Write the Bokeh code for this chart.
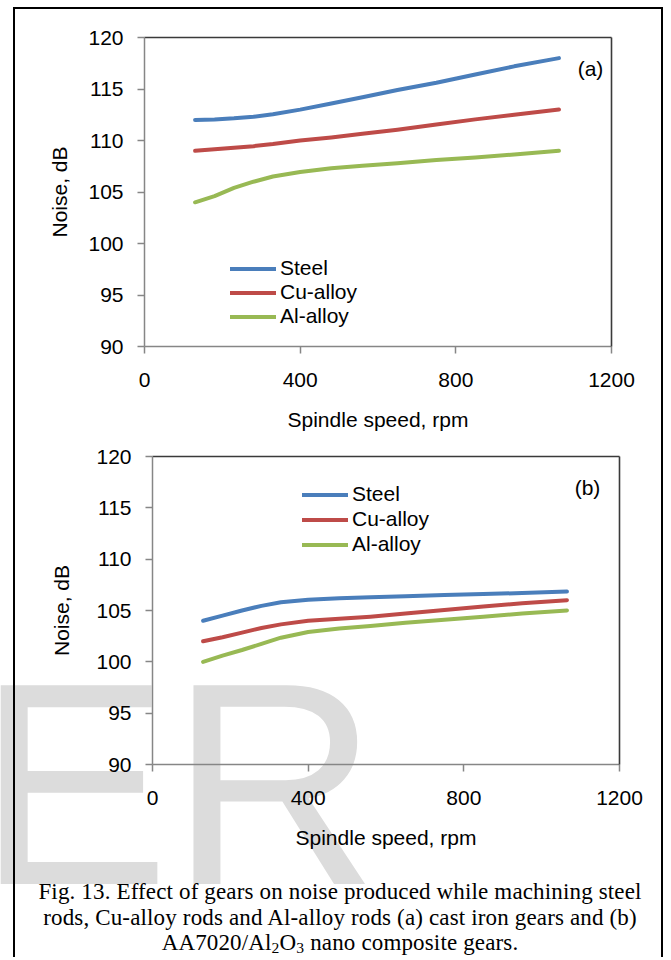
from bokeh.plotting import figure
from bokeh.models import Legend, LegendItem, Label, LinearAxis, FixedTicker, Range1d, Div
from bokeh.layouts import column
from bokeh.embed import file_html
from bokeh.resources import INLINE

# ---------------- data ----------------
series_names = ["Steel", "Cu-alloy", "Al-alloy"]
series_colors = ["#4a7ebb", "#be4b48", "#98b954"]

speed_rpm = [130, 180, 230, 280, 330, 400, 480, 560, 650, 750, 850, 950, 1065]

# (a) cast iron gears
steel_a = [112.0, 112.05, 112.15, 112.3, 112.55, 113.0, 113.6, 114.2, 114.9, 115.6, 116.4, 117.2, 118.0]
cu_a = [109.0, 109.15, 109.3, 109.45, 109.65, 110.0, 110.3, 110.65, 111.05, 111.55, 112.05, 112.5, 113.0]
al_a = [104.0, 104.6, 105.4, 106.0, 106.5, 106.95, 107.3, 107.55, 107.8, 108.1, 108.35, 108.65, 109.0]

# (b) AA7020/Al2O3 nano composite gears
steel_b = [104.0, 104.5, 105.0, 105.45, 105.8, 106.05, 106.2, 106.3, 106.4, 106.5, 106.6, 106.7, 106.85]
cu_b = [102.0, 102.4, 102.85, 103.3, 103.65, 104.0, 104.2, 104.4, 104.7, 105.05, 105.4, 105.7, 106.0]
al_b = [100.0, 100.6, 101.15, 101.75, 102.35, 102.9, 103.25, 103.5, 103.8, 104.1, 104.4, 104.7, 105.0]

x_ticks = [0, 400, 800, 1200]
y_ticks = [90, 95, 100, 105, 110, 115, 120]

x_title = "Spindle speed, rpm"
y_title = "Noise, dB"
panel_tags = ["(a)", "(b)"]
caption_lines = [
    "Fig. 13. Effect of gears on noise produced while machining steel",
    "rods, Cu-alloy rods and Al-alloy rods (a) cast iron gears and (b)",
    "AA7020/Al<span class='s'>2</span>O<span class='s'>3</span> nano composite gears.",
]
watermark_text = "ER"

SANS = "Liberation Sans"
SERIF = "Liberation Serif"
FS = "21px"
W = 671


def make_fig(height, bl, br, bt, bb, series, legend_xy, legend_spacing, tag, tag_xy, title_stand):
    p = figure(width=W, height=height, x_range=Range1d(0, 1200), y_range=Range1d(90, 120),
               output_backend="svg", toolbar_location=None,
               min_border_left=bl, min_border_right=br, min_border_top=bt, min_border_bottom=bb,
               styles={"position": "relative", "z-index": "1"})
    p.frame_align = False
    p.outline_line_color = None
    p.grid.visible = False
    p.background_fill_color = None
    p.border_fill_color = None

    for ax in (p.xaxis[0], p.yaxis[0]):
        ax.axis_line_color = "#868686"
        ax.axis_line_width = 1.5
        ax.major_tick_line_color = "#868686"
        ax.major_tick_line_width = 1.5
        ax.major_tick_in = 0
        ax.major_tick_out = 7
        ax.minor_tick_line_color = None
        ax.major_label_text_font = SANS
        ax.major_label_text_font_size = FS
        ax.major_label_text_color = "black"
        ax.axis_label_text_font = SANS
        ax.axis_label_text_font_size = FS
        ax.axis_label_text_font_style = "normal"
        ax.axis_label_text_color = "black"
    p.xaxis[0].ticker = FixedTicker(ticks=x_ticks)
    p.yaxis[0].ticker = FixedTicker(ticks=y_ticks)
    p.xaxis[0].axis_label = x_title
    p.yaxis[0].axis_label = y_title
    p.xaxis[0].major_label_standoff = 19
    p.yaxis[0].major_label_standoff = 14
    p.xaxis[0].axis_label_standoff = 18
    p.yaxis[0].axis_label_standoff = title_stand

    for loc in ("above", "right"):
        ax = LinearAxis(ticker=FixedTicker(ticks=[]), axis_line_color="#3a3a3a", axis_line_width=1.6,
                        major_tick_line_color=None, minor_tick_line_color=None,
                        major_label_text_font_size="1px")
        p.add_layout(ax, loc)

    items = []
    for name, col, ys in zip(series_names, series_colors, series):
        r = p.line(speed_rpm, ys, line_color=col, line_width=4, line_join="round", line_cap="round")
        items.append(LegendItem(label=name, renderers=[r]))

    leg = Legend(items=items, location=legend_xy, orientation="vertical",
                 glyph_width=46, glyph_height=23, label_height=23, label_standoff=4,
                 spacing=legend_spacing, padding=0, margin=0,
                 border_line_color=None, background_fill_color=None,
                 label_text_font=SANS, label_text_font_size=FS, label_text_color="black")
    p.add_layout(leg, "center")

    p.add_layout(Label(x=tag_xy[0], y=tag_xy[1], x_units="screen", y_units="screen", text=tag,
                       text_font=SANS, text_font_size=FS, text_color="black",
                       text_align="center", text_baseline="middle"))
    return p


fa = make_fig(433, 144, 60, 37, 85, [steel_a, cu_a, al_a], (86, 18), 0, panel_tags[0], (446, 278), 14)
fb = make_fig(432, 152, 52, 23, 101, [steel_b, cu_b, al_b], (150, 208), 1, panel_tags[1], (435, 277), 20)

caption_html = "<br>".join(caption_lines)
html = f"""
<style>
.s {{ font-size: 0.68em; vertical-align: -0.22em; line-height: 0; }}
</style>
<div style="position:relative; width:671px; height:95px; margin:0; padding:0;">
  <div style="position:absolute; left:-23px; top:-226px; font-family:'{SANS}'; font-size:289px;
              line-height:1; color:#dcdcdc; white-space:nowrap; z-index:0;">{watermark_text}</div>
  <div style="position:absolute; left:13px; top:-858px; width:650px; height:950px;
              border:2px solid black; border-bottom:none; z-index:1;"></div>
  <div style="position:absolute; left:20px; top:14px; width:640px; z-index:2;
              font-family:'{SERIF}'; font-size:23px; letter-spacing:0.15px; line-height:25.5px;
              text-align:center; color:black; white-space:nowrap;">{caption_html}</div>
</div>
"""
cap = Div(text=html, width=W, height=95,
          styles={"overflow": "visible", "position": "relative", "z-index": "0", "margin": "0"})

layout = column(fa, fb, cap, spacing=0)
open("out.html", "w").write(file_html(layout, INLINE))
